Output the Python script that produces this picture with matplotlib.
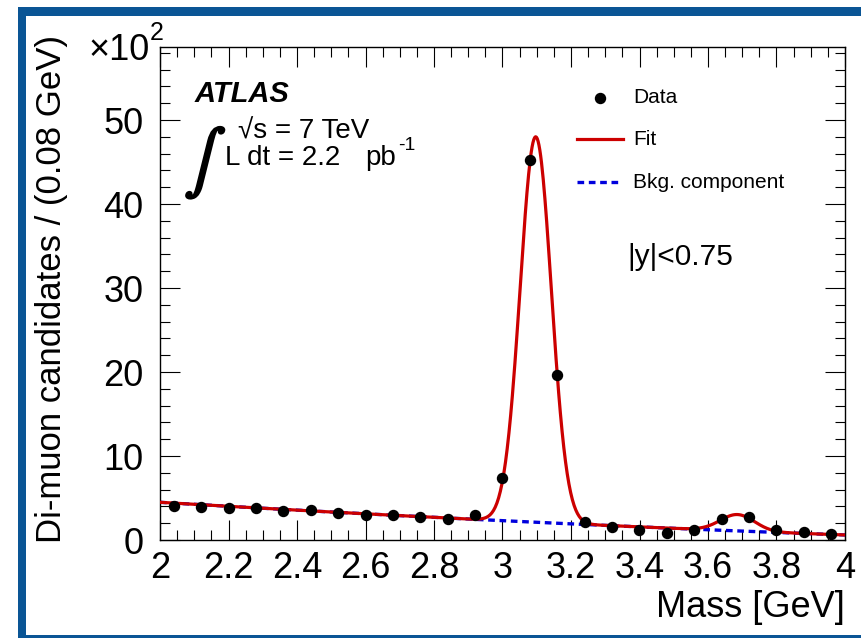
import numpy as np
import matplotlib
matplotlib.use("Agg")
import matplotlib.pyplot as plt
import matplotlib.patheffects as pe
from matplotlib.patches import Rectangle
from matplotlib.ticker import MultipleLocator, FormatStrFormatter

plt.rcParams['font.family'] = ['Liberation Sans', 'DejaVu Sans']

# di-muon candidates per 0.08 GeV bin, in units of 10^2
bin_centres = [2.04, 2.12, 2.20, 2.28, 2.36, 2.44, 2.52, 2.60, 2.68, 2.76,
               2.84, 2.92, 3.00, 3.08, 3.16, 3.24, 3.32, 3.40, 3.48, 3.56,
               3.64, 3.72, 3.80, 3.88, 3.96]
candidates = [4.05, 3.97, 3.77, 3.85, 3.41, 3.61, 3.21, 2.98, 3.02, 2.70,
              2.46, 3.02, 7.42, 45.2, 19.7, 2.18, 1.55, 1.15, 0.83, 1.19,
              2.46, 2.70, 1.19, 0.95, 0.71]

# fit result: quadratic background in (m - 2) plus two gaussians
bkg_coeffs = [4.49, -2.435, 0.245]
jpsi_peak = [45.9, 3.097, 0.0455]    # amplitude, mean, sigma
psi2s_peak = [1.95, 3.686, 0.050]

red = '#cc0000'
blue = '#0000dd'
frame_blue = '#0a5595'


def background(m):
    t = m - 2.0
    return bkg_coeffs[0] + bkg_coeffs[1] * t + bkg_coeffs[2] * t**2


def gauss(m, pars):
    amp, mean, sigma = pars
    return amp * np.exp(-0.5 * ((m - mean) / sigma)**2)


m = np.linspace(2.0, 4.0, 800)
bkg = background(m)
fit = bkg + gauss(m, jpsi_peak) + gauss(m, psi2s_peak)

fig = plt.figure(figsize=(8.62, 6.38), dpi=100)
ax = fig.add_axes([160/862, 1 - 540/638, 685/862, 493/638])

ax.plot(m, bkg, color=blue, lw=2.4, ls=(0, (2.0, 1.4)), zorder=2)
ax.plot(m, fit, color=red, lw=2.3, zorder=3)
ax.plot(bin_centres, candidates, 'o', color='black', ms=7.2, zorder=4)

ax.set_xlim(2.0, 4.0)
ax.set_ylim(0, 58.7)
ax.xaxis.set_major_locator(MultipleLocator(0.2))
ax.xaxis.set_minor_locator(MultipleLocator(0.05))
ax.yaxis.set_major_locator(MultipleLocator(10))
ax.yaxis.set_minor_locator(MultipleLocator(2))
ax.xaxis.set_major_formatter(FormatStrFormatter('%g'))
ax.yaxis.set_major_formatter(FormatStrFormatter('%g'))
ax.tick_params(which='both', direction='in', top=True, right=True, width=0.8)
ax.tick_params(which='major', length=14.5, labelsize=26)
ax.tick_params(axis='x', which='major', pad=8)
ax.tick_params(axis='y', which='major', pad=12)
ax.tick_params(which='minor', length=7.2)
for sp in ax.spines.values():
    sp.set_linewidth(1.0)

fig.text(845/862, 1 - 617/638, 'Mass [GeV]', fontsize=26,
         ha='right', va='baseline')
fig.text(52/862, 1 - 289/638, 'Di-muon candidates / (0.08 GeV)', fontsize=25,
         rotation=90, ha='center', va='center')
fig.text(150/862, 1 - 60/638, u'\u00d710', fontsize=26, ha='right', va='baseline')
fig.text(150/862, 1 - 40/638, '2', fontsize=18, ha='left', va='baseline')

# experiment labels
ax.text(0.066, 0.765, r'$\int$', transform=ax.transAxes, fontsize=45,
        math_fontfamily='stix', ha='center', va='center',
        path_effects=[pe.withStroke(linewidth=1.6, foreground='black')])
ax.text(0.051, 0.888, 'ATLAS', transform=ax.transAxes, fontsize=21,
        fontweight='bold', fontstyle='italic')
ax.text(0.114, 0.815, u'\u221as = 7 TeV', transform=ax.transAxes, fontsize=20)
ax.text(0.095, 0.761, 'L dt = 2.2', transform=ax.transAxes, fontsize=20)
ax.text(0.299, 0.761, 'pb', transform=ax.transAxes, fontsize=20)
ax.text(0.348, 0.792, '-1', transform=ax.transAxes, fontsize=14)
ax.text(0.683, 0.558, '|y|<0.75', transform=ax.transAxes, fontsize=21.5)

# legend
ax.plot([0.642], [0.8966], 'o', color='black', ms=7.2, transform=ax.transAxes,
        clip_on=False)
ax.plot([0.609, 0.676], [0.813, 0.813], color=red, lw=2.3,
        transform=ax.transAxes)
ax.plot([0.609, 0.672], [0.726, 0.726], color=blue, lw=2.4,
        ls=(0, (2.0, 1.4)), transform=ax.transAxes)
ax.text(0.6905, 0.8966, 'Data', transform=ax.transAxes, fontsize=15, va='center')
ax.text(0.6905, 0.813, 'Fit', transform=ax.transAxes, fontsize=15, va='center')
ax.text(0.6905, 0.726, 'Bkg. component', transform=ax.transAxes, fontsize=15,
        va='center')

# blue frame around the figure
fig.add_artist(Rectangle((18/862, 1 - 16/638), 844/862, 9/638,
                         transform=fig.transFigure, color=frame_blue, lw=0))
fig.add_artist(Rectangle((18/862, 0), 8/862, 1 - 7/638,
                         transform=fig.transFigure, color=frame_blue, lw=0))
fig.add_artist(Rectangle((18/862, 0), 844/862, 3/638,
                         transform=fig.transFigure, color=frame_blue, lw=0))

fig.savefig('out.png', dpi=100)
